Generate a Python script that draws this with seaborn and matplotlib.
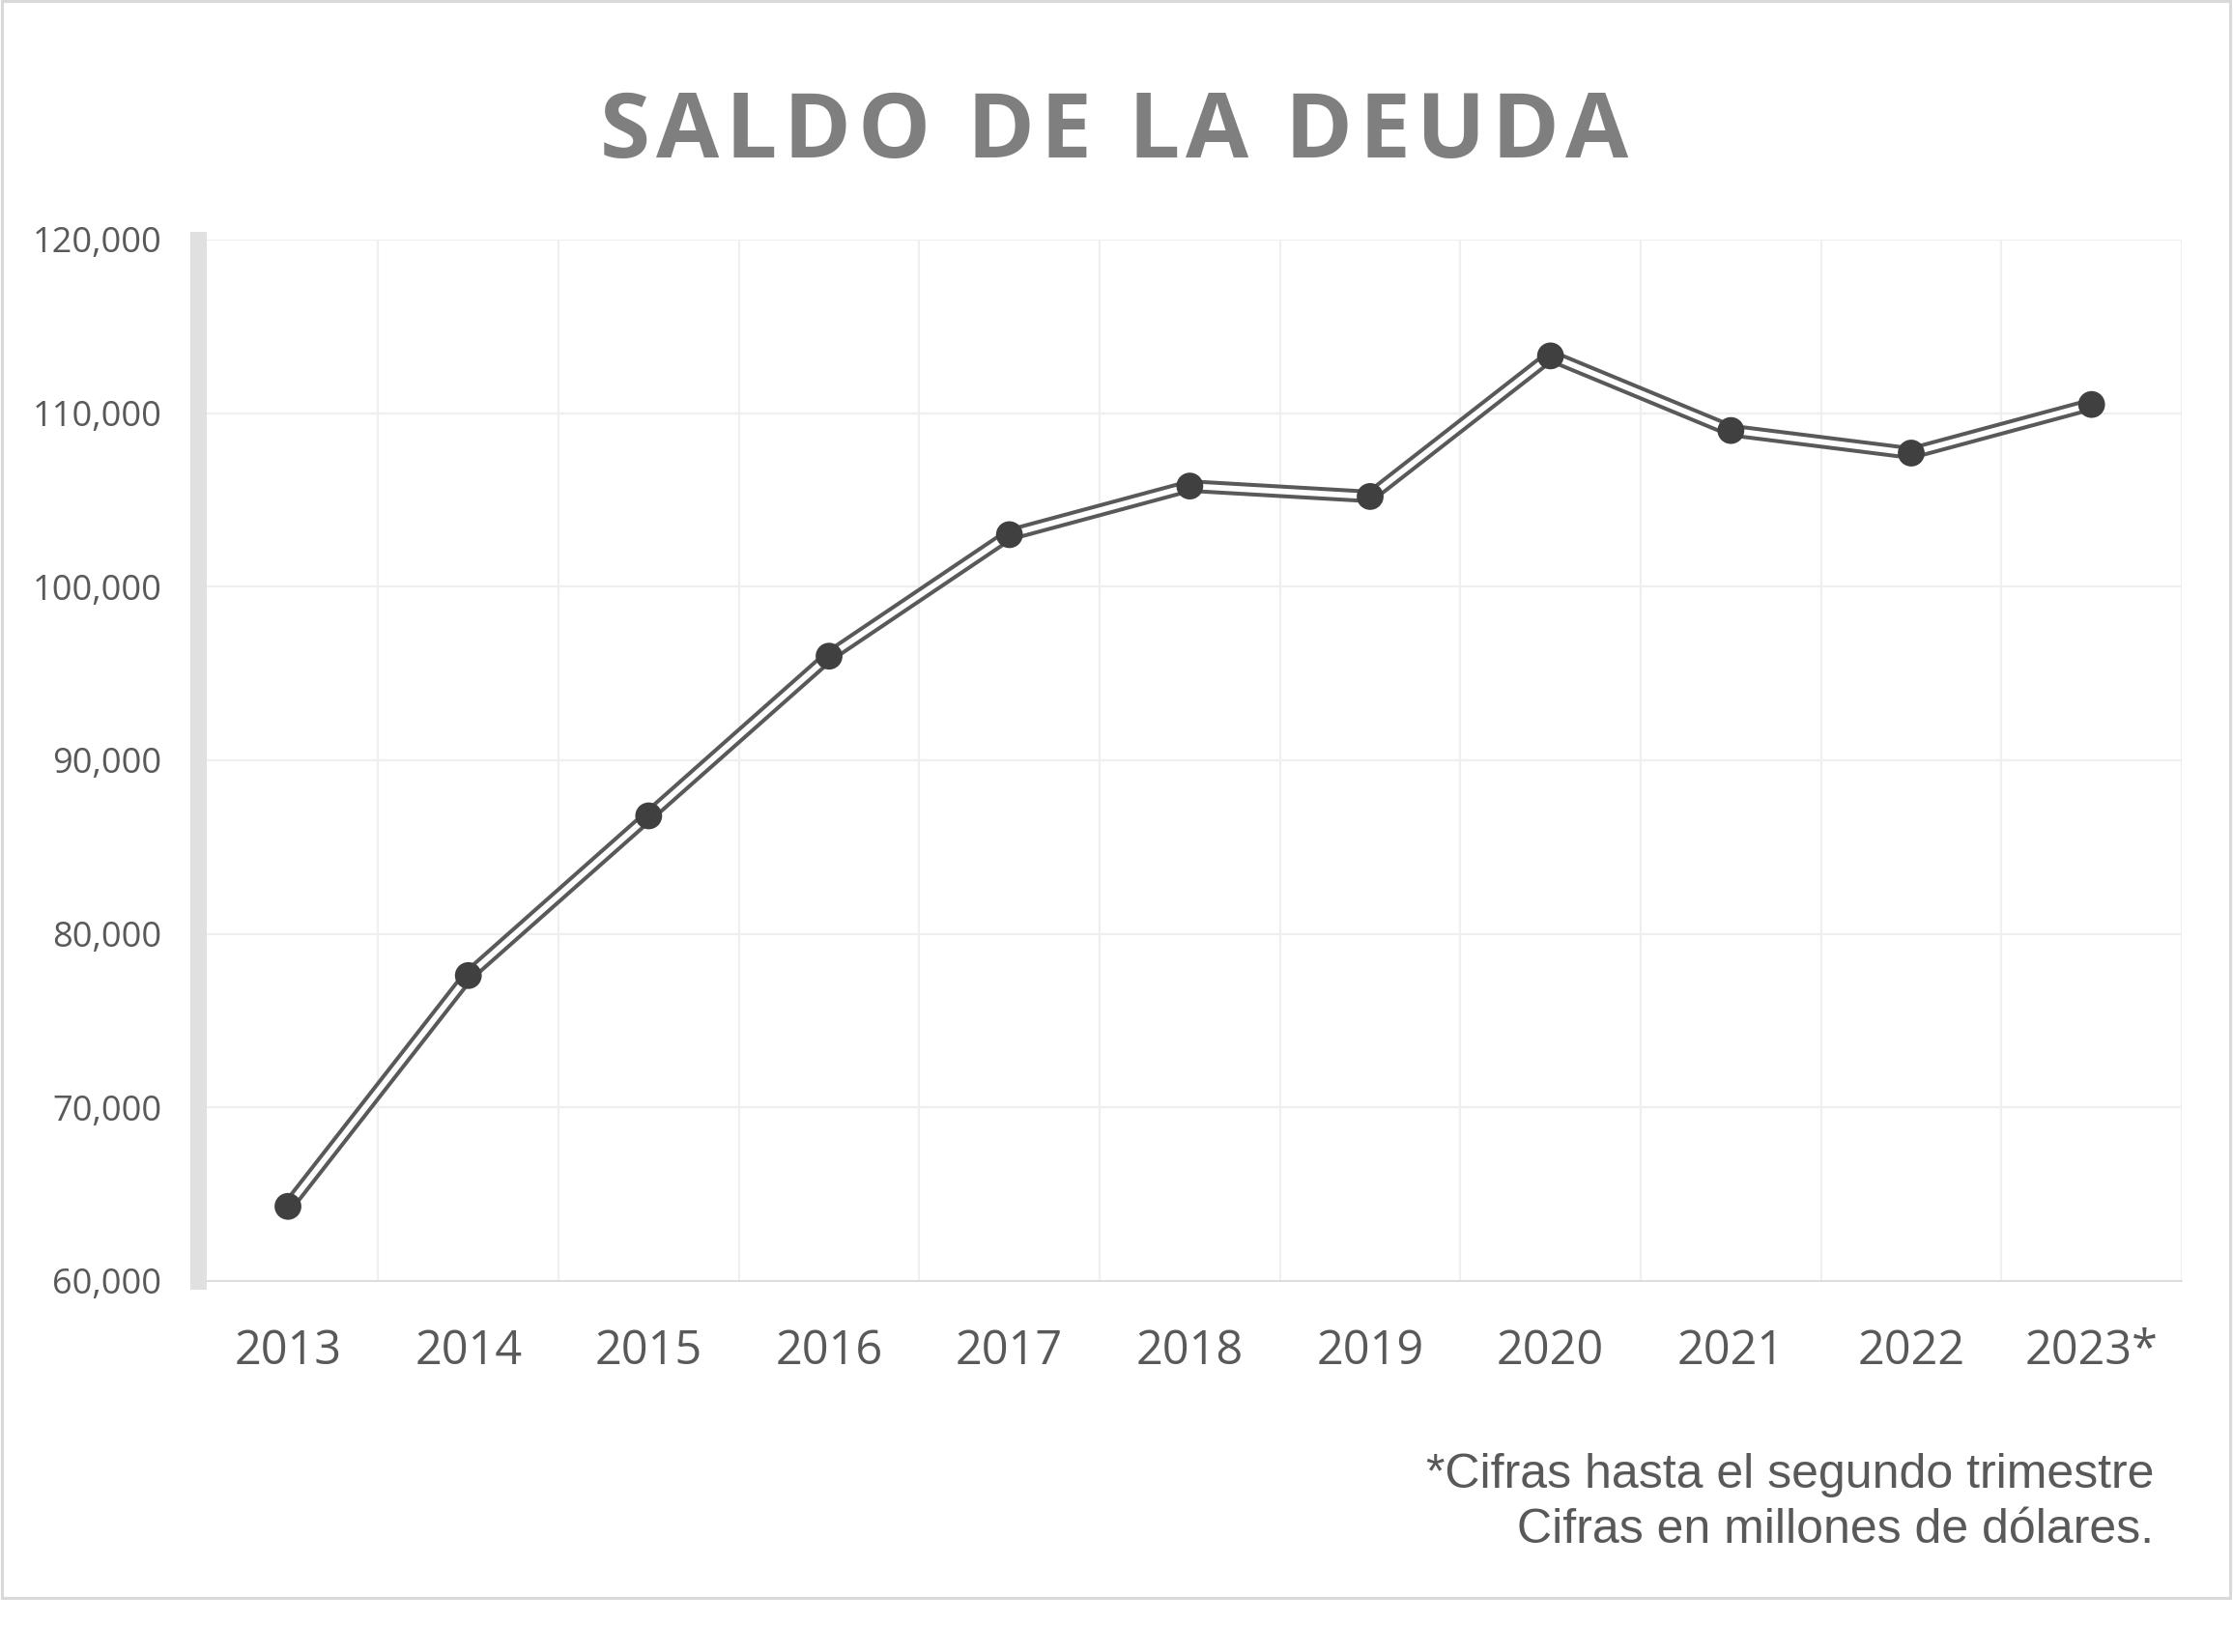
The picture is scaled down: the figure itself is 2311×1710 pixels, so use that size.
import numpy as np
import pandas as pd
import matplotlib.pyplot as plt
import seaborn as sns
from matplotlib.patches import Rectangle
from matplotlib.ticker import FuncFormatter

# datos (millones de dolares)
anios = ["2013", "2014", "2015", "2016", "2017", "2018",
         "2019", "2020", "2021", "2022", "2023*"]
saldo = [64300, 77600, 86800, 96000, 103000, 105800,
         105200, 113300, 109000, 107700, 110500]
y_ticks = [60000, 70000, 80000, 90000, 100000, 110000, 120000]

titulo = "SALDO DE LA DEUDA"
nota_1 = "*Cifras hasta el segundo trimestre"
nota_2 = "Cifras en millones de dólares."

GRIS_TEXTO = "#595959"
GRIS_LINEA = "#595959"
GRIS_PUNTO = "#404040"

df = pd.DataFrame({"anio": anios, "saldo": saldo})
df["pos"] = np.arange(len(df))

sns.set_theme(style="white")
plt.rcParams["font.family"] = ["Open Sans", "DejaVu Sans"]

W, H = 2311, 1710
fig = plt.figure(figsize=(W / 100, H / 100), dpi=100)
fig.patch.set_facecolor("white")

# marco de la imagen
fig.patches.append(Rectangle((1.5 / W, 1 - 1654 / H), 2306.5 / W, 1652.5 / H,
                             transform=fig.transFigure, fill=False,
                             edgecolor="#d9d9d9", linewidth=2.2))

ax = fig.add_axes([204.7 / W, 1 - 1326 / H, (2258 - 204.7) / W, (1326 - 248) / H])

# linea doble: trazo gris grueso + trazo blanco encima
sns.lineplot(data=df, x="pos", y="saldo", ax=ax, color=GRIS_LINEA,
             linewidth=10, sort=False, zorder=3)
sns.lineplot(data=df, x="pos", y="saldo", ax=ax, color="white",
             linewidth=4.2, sort=False, zorder=4)
sns.scatterplot(data=df, x="pos", y="saldo", ax=ax, color=GRIS_PUNTO,
                s=400, edgecolor="none", zorder=5)

ax.set_xlim(-0.5, len(anios) - 0.5)
ax.set_ylim(y_ticks[0], y_ticks[-1])
ax.set_xticks(df["pos"])
ax.set_xticklabels(anios)
ax.set_xticks(np.arange(0.5, len(anios), 1), minor=True)
ax.set_yticks(y_ticks)
ax.yaxis.set_major_formatter(FuncFormatter(lambda v, p: f"{v:,.0f}"))

ax.grid(False)
ax.grid(axis="y", which="major", color="#efefef", linewidth=1.6, zorder=0)
ax.grid(axis="x", which="minor", color="#efefef", linewidth=1.6, zorder=0)

ax.tick_params(axis="both", which="both", length=0)
ax.tick_params(axis="y", labelsize=26, labelcolor=GRIS_TEXTO, pad=27)
ax.tick_params(axis="x", labelsize=35, labelcolor=GRIS_TEXTO, pad=35)
ax.set_xlabel("")
ax.set_ylabel("")

for lado in ["top", "right"]:
    ax.spines[lado].set_visible(False)
ax.spines["bottom"].set_color("#d9d9d9")
ax.spines["bottom"].set_linewidth(1.2)
ax.spines["left"].set_color("#e0e0e0")
ax.spines["left"].set_linewidth(12.2)
ax.spines["left"].set_capstyle("projecting")
ax.spines["left"].set_zorder(6)


def titulo_espaciado(fig, texto, x_centro, y, espacio_px, **kw):
    """dibuja el titulo letra por letra con espaciado extra."""
    renderer = fig.canvas.get_renderer()

    def ancho(s):
        t = fig.text(0, 0, s, **kw)
        w = t.get_window_extent(renderer).width
        t.remove()
        return w

    ancho_esp = ancho("A A") - ancho("AA")
    anchos = [ancho_esp if c == " " else ancho(c) for c in texto]
    total = sum(anchos) + espacio_px * (len(texto) - 1)
    x = x_centro * W - total / 2
    for c, w in zip(texto, anchos):
        if c != " ":
            fig.text(x / W, y, c, ha="left", va="baseline", **kw)
        x += w + espacio_px


titulo_espaciado(fig, titulo, 1153 / W, 1 - 163 / H, 6.5,
                 fontsize=68, fontweight="bold", color="#7f7f7f",
                 family=["Open Sans", "DejaVu Sans"])

fig.text(2229 / W, 1 - 1540 / H, nota_1, ha="right", va="baseline",
         fontsize=36, color=GRIS_TEXTO, family=["Liberation Sans", "DejaVu Sans"])
fig.text(2229 / W, 1 - 1597 / H, nota_2, ha="right", va="baseline",
         fontsize=36, color=GRIS_TEXTO, family=["Liberation Sans", "DejaVu Sans"])

fig.savefig("out.png", dpi=100, facecolor="white")
plt.close(fig)
